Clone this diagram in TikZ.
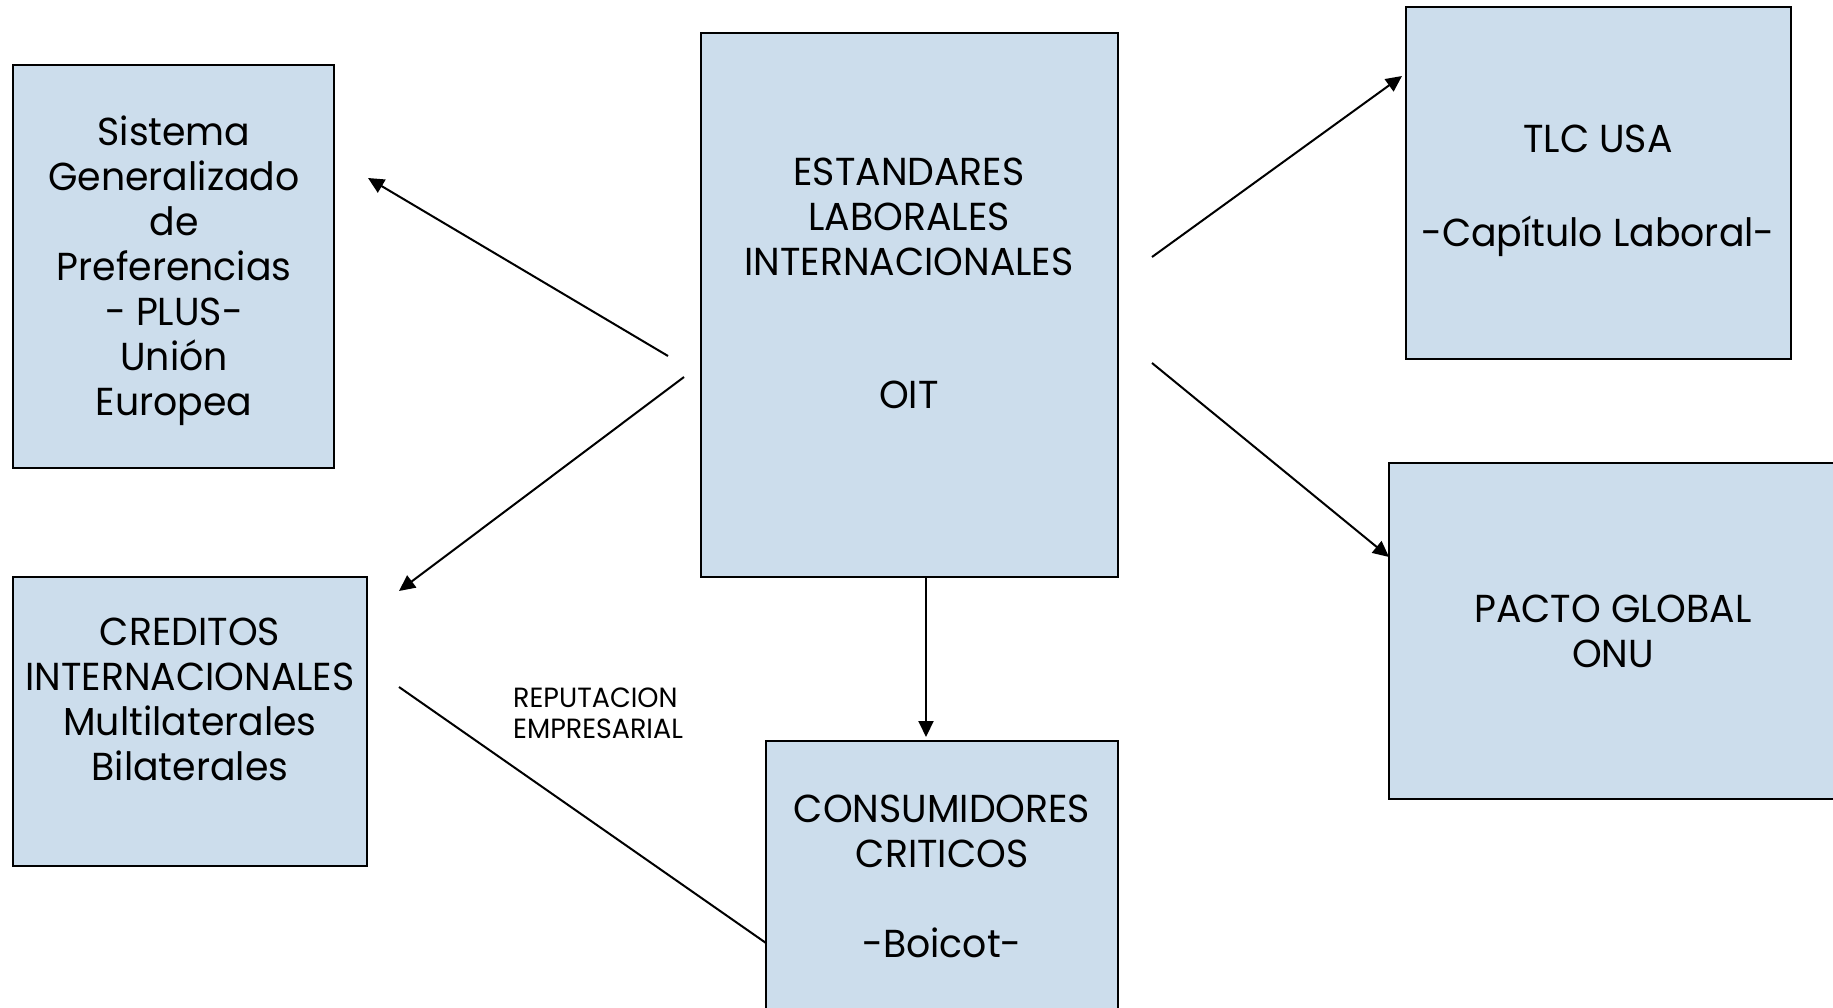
\documentclass[tikz,border=0pt]{standalone}
\usepackage{fontspec}
\setmainfont{Poppins}[FakeStretch=0.97]
\usetikzlibrary{arrows.meta}
\definecolor{boxfill}{RGB}{204,221,236}
\begin{document}
\begin{tikzpicture}[x=1pt,y=-1pt,
  boxnode/.style={draw=black,line width=2.5pt,fill=boxfill,inner sep=0pt,outer sep=0pt,anchor=north west},
  bigtext/.style={font=\fontsize{39}{45}\selectfont,align=center,anchor=base,inner sep=0pt},
  smalltext/.style={font=\fontsize{27.8}{31}\selectfont,align=left,anchor=base west,inner sep=0pt},
  conn/.style={line width=2pt,draw=black},
  arr/.style={conn,-{Triangle[length=16pt,width=15pt]}}]
\useasboundingbox (0,0) rectangle (1833,1008);
% boxes
\node[boxnode,minimum width=321pt,minimum height=403pt] (sgp) at (13,65) {};
\node[boxnode,minimum width=417pt,minimum height=544pt] (oit) at (701,33) {};
\node[boxnode,minimum width=385pt,minimum height=352pt] (tlc) at (1406,7) {};
\node[boxnode,minimum width=448pt,minimum height=336pt] (pacto) at (1389,463) {};
\node[boxnode,minimum width=354pt,minimum height=289pt] (cred) at (13,577) {};
\node[boxnode,minimum width=352pt,minimum height=300pt] (cons) at (766,741) {};
% texts (anchor = baseline of the last line)
\node[bigtext] (sgpt) at (174,415) {Sistema\\Generalizado\\de\\Preferencias\\- PLUS-\\Unión\\Europea};
\node[bigtext] (oitt) at (909,408) {ESTANDARES\\LABORALES\\INTERNACIONALES\\[88pt]OIT};
\node[bigtext] (tlct) at (1598,247) {TLC USA\\[49pt]-Capítulo Laboral-};
\node[bigtext] (pactot) at (1613,667) {PACTO GLOBAL\\ONU};
\node[bigtext] (credt) at (190,780) {CREDITOS\\INTERNACIONALES\\Multilaterales\\Bilaterales};
\node[bigtext] (const) at (942,957) {CONSUMIDORES\\CRITICOS\\[45pt]-Boicot-};
\node[smalltext] (rep) at (513,738) {REPUTACION\\EMPRESARIAL};
% connector ends
\coordinate (a1s) at (668,356); \coordinate (a1e) at (368,178);
\coordinate (a2s) at (684,377); \coordinate (a2e) at (399,591);
\coordinate (a3s) at (1152,257); \coordinate (a3e) at (1402,76);
\coordinate (a4s) at (1152,363); \coordinate (a4e) at (1389,557);
\coordinate (a5s) at (oit.south -| 926,0); \coordinate (a5e) at (926,737);
\coordinate (l6s) at (399,687); \coordinate (l6e) at (cons.west |- 0,943);
% connectors
\draw[arr] (a1s) -- (a1e);
\draw[arr] (a2s) -- (a2e);
\draw[arr] (a3s) -- (a3e);
\draw[arr] (a4s) -- (a4e);
\draw[arr] (a5s) -- (a5e);
\draw[conn] (l6s) -- (l6e);
\end{tikzpicture}
\end{document}
